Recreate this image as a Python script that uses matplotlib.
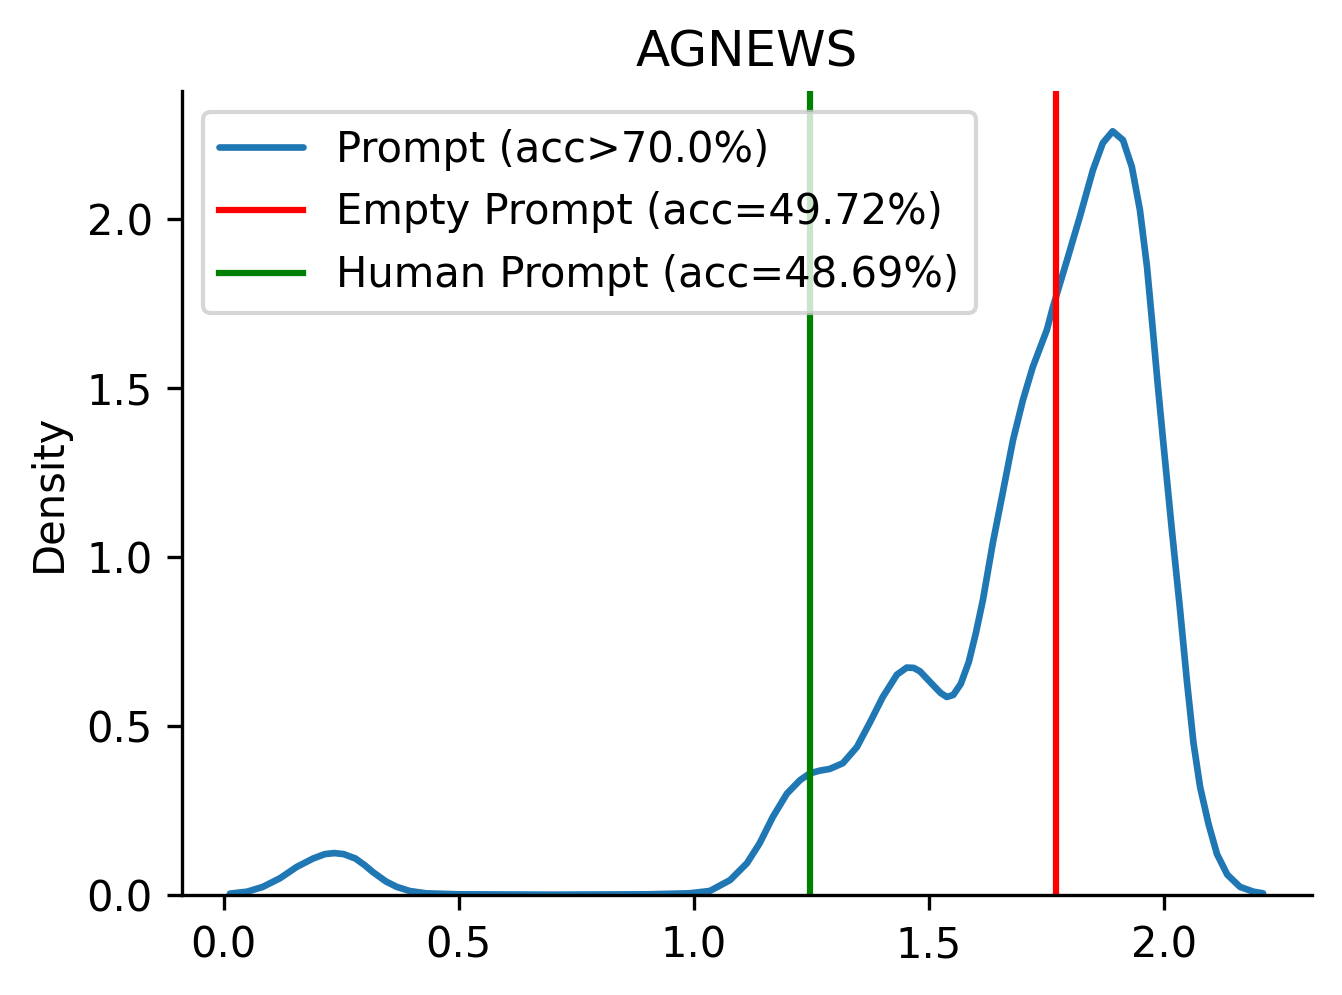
import matplotlib
matplotlib.use("Agg")
import matplotlib.pyplot as plt

# Density curve (x, density)
curve_x = [0.013, 0.05, 0.083, 0.12, 0.155, 0.19, 0.215, 0.235, 0.255, 0.28, 0.30, 0.317,
           0.345, 0.368, 0.395, 0.43, 0.5, 0.7, 0.9, 0.991,
           1.034, 1.077, 1.113, 1.140, 1.168, 1.198, 1.226, 1.247, 1.268, 1.289, 1.317,
           1.347, 1.374, 1.402, 1.432, 1.453, 1.468, 1.481, 1.509, 1.525, 1.538, 1.552,
           1.568, 1.585, 1.600, 1.615, 1.636, 1.657, 1.679, 1.70, 1.721, 1.751, 1.764, 1.794,
           1.821, 1.849, 1.870, 1.891, 1.913, 1.932, 1.949, 1.964, 1.976, 1.987, 1.998,
           2.017, 2.034, 2.049, 2.063, 2.077, 2.095, 2.113, 2.135, 2.162, 2.19, 2.211]
curve_y = [0.004, 0.01, 0.024, 0.05, 0.083, 0.108, 0.121, 0.124, 0.121, 0.108, 0.088, 0.068,
           0.04, 0.024, 0.012, 0.005, 0.002, 0.001, 0.002, 0.005,
           0.012, 0.044, 0.094, 0.153, 0.231, 0.30, 0.34, 0.36, 0.368, 0.373, 0.39,
           0.438, 0.509, 0.586, 0.652, 0.673, 0.672, 0.662, 0.621, 0.598, 0.586, 0.592,
           0.625, 0.69, 0.775, 0.873, 1.041, 1.189, 1.346, 1.464, 1.562, 1.672, 1.74, 1.879,
           2.006, 2.145, 2.225, 2.260, 2.234, 2.154, 2.027, 1.86, 1.68, 1.51, 1.35,
           1.08, 0.85, 0.633, 0.45, 0.32, 0.21, 0.121, 0.06, 0.024, 0.01, 0.005]

empty_prompt_x = 1.770
human_prompt_x = 1.247

labels = ["Prompt (acc>70.0%)", "Empty Prompt (acc=49.72%)", "Human Prompt (acc=48.69%)"]
x_ticks = [0.0, 0.5, 1.0, 1.5, 2.0]
y_ticks = [0.0, 0.5, 1.0, 1.5, 2.0]

fig = plt.figure(figsize=(1342 / 300, 995 / 300), dpi=300)
ax = fig.add_axes([0.1356, 0.1005, 0.8420, 0.8080])

ax.plot(curve_x, curve_y, color="#1f77b4", lw=1.6, label=labels[0],
        solid_joinstyle="round", solid_capstyle="round")
ax.axvline(empty_prompt_x, color="red", lw=1.5, label=labels[1])
ax.axvline(human_prompt_x, color="green", lw=1.5, label=labels[2])

ax.set_xlim(-0.089, 2.315)
ax.set_ylim(0, 2.379)
ax.set_xticks(x_ticks)
ax.set_yticks(y_ticks)
ax.tick_params(labelsize=10)
ax.set_ylabel("Density", fontsize=10)
ax.set_title("AGNEWS", fontsize=12)
ax.spines["top"].set_visible(False)
ax.spines["right"].set_visible(False)
ax.legend(loc="upper left", fontsize=10)

fig.savefig("out.png", dpi=300)
